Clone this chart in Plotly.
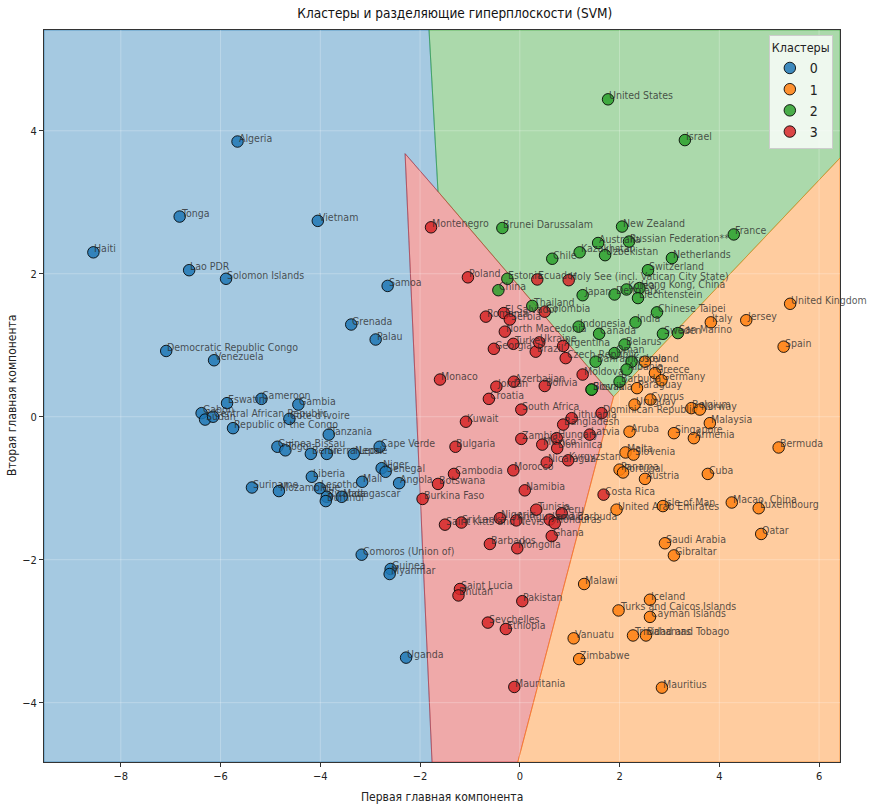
import plotly.graph_objects as go

# ---- cluster 0 ----
names_0 = ["Algeria", "Tonga", "Haiti", "Lao PDR", "Solomon Islands", "Vietnam", "Samoa",
           "Grenada", "Palau", "Democratic Republic Congo", "Venezuela", "Eswatini",
           "Cameroon", "Gambia", "Gabon", "Sudan", "Central African Republic",
           "Cote d'Ivoire", "Republic of the Congo", "Tanzania", "Guinea-Bissau", "Togo",
           "Benin", "Sierra Leone", "Nepal", "Cape Verde", "Niger", "Senegal", "Angola",
           "Mali", "Liberia", "Lesotho", "Rwanda", "Burundi", "Madagascar", "Suriname",
           "Mozambique", "Comoros (Union of)", "Guinea", "Myanmar", "Uganda"]
pc1_0 = [-5.66, -6.82, -8.55, -6.63, -5.89, -4.05, -2.65, -3.38, -2.89, -7.09, -6.13, -5.87,
         -5.18, -4.44, -6.38, -6.31, -6.15, -4.62, -5.75, -3.83, -4.86, -4.70, -4.19, -3.87,
         -3.33, -2.81, -2.77, -2.69, -2.42, -3.16, -4.17, -4.01, -3.87, -3.89, -3.57, -5.37,
         -4.83, -3.17, -2.59, -2.61, -2.28]
pc2_0 = [3.85, 2.80, 2.30, 2.05, 1.93, 2.74, 1.83, 1.29, 1.08, 0.92, 0.79, 0.19,
         0.25, 0.17, 0.05, -0.04, 0.00, -0.03, -0.16, -0.25, -0.42, -0.47, -0.52, -0.52,
         -0.52, -0.42, -0.72, -0.77, -0.93, -0.91, -0.84, -1.00, -1.12, -1.18, -1.12, -0.99,
         -1.04, -1.93, -2.13, -2.20, -3.37]

# ---- cluster 1 ----
names_1 = ["United Kingdom", "Spain", "Jersey", "Italy", "Ireland", "Greece", "Germany",
           "Paraguay", "Cyprus", "Uruguay", "Belgium", "Norway", "Malaysia", "Singapore",
           "Armenia", "Aruba", "Malta", "Slovenia", "Panama", "Portugal", "Austria", "Cuba",
           "Bermuda", "United Arab Emirates", "Isle of Man", "Macao, China", "Luxembourg",
           "Qatar", "Saudi Arabia", "Gibraltar", "Malawi", "Iceland",
           "Turks and Caicos Islands", "Cayman Islands", "Trinidad and Tobago", "Bahamas",
           "Vanuatu", "Zimbabwe", "Mauritius"]
pc1_1 = [5.42, 5.29, 4.54, 3.83, 2.51, 2.71, 2.84, 2.35, 2.62, 2.30, 3.44, 3.61, 3.81, 3.09,
         3.49, 2.20, 2.12, 2.28, 2.00, 2.07, 2.51, 3.77, 5.19, 1.94, 2.87, 4.25, 4.79, 4.84,
         2.91, 3.09, 1.29, 2.61, 1.98, 2.61, 2.27, 2.53, 1.08, 1.19, 2.85]
pc2_1 = [1.58, 0.98, 1.35, 1.32, 0.77, 0.61, 0.51, 0.40, 0.24, 0.17, 0.12, 0.10, -0.09, -0.23,
         -0.30, -0.21, -0.50, -0.53, -0.74, -0.78, -0.87, -0.80, -0.43, -1.30, -1.25, -1.20,
         -1.28, -1.64, -1.77, -1.94, -2.34, -2.56, -2.71, -2.80, -3.06, -3.06, -3.10, -3.39,
         -3.79]

# ---- cluster 2 ----
names_2 = ["United States", "Israel", "New Zealand", "Russian Federation**", "France",
           "Netherlands", "Australia", "Kazakhstan", "Uzbekistan", "Chile",
           "Brunei Darussalam", "Estonia", "China", "Switzerland", "Hong Kong, China",
           "Liechtenstein", "Korea", "Denmark", "Japan", "Thailand", "Indonesia", "Canada",
           "Chinese Taipei", "India", "Sweden", "San Marino", "Belarus", "Slovakia",
           "Oman", "Bahrain", "Kosovo", "Albania", "Barbuda", "Bosnia"]
pc1_2 = [1.77, 3.31, 2.05, 2.19, 4.29, 3.05, 1.57, 1.20, 1.71, 0.65, -0.35, -0.25, -0.43,
         2.57, 2.40, 2.37, 2.14, 1.90, 1.26, 0.25, 1.18, 1.59, 2.75, 2.32, 2.87, 3.17, 2.10,
         1.44, 1.90, 1.52, 2.24, 2.14, 2.00, 1.44]
pc2_2 = [4.44, 3.87, 2.66, 2.45, 2.55, 2.22, 2.43, 2.30, 2.26, 2.21, 2.64, 1.93, 1.77,
         2.05, 1.80, 1.66, 1.78, 1.71, 1.70, 1.55, 1.26, 1.16, 1.46, 1.32, 1.16, 1.17, 1.01,
         0.38, 0.89, 0.77, 0.77, 0.66, 0.49, 0.38]

# ---- cluster 3 ----
names_3 = ["Montenegro", "Poland", "Ecuador", "Holy See (incl. Vatican City State)",
           "Colombia", "Romania", "El Salvador", "Serbia", "North Macedonia", "Georgia",
           "Turkey", "Brazil", "Ukraine", "Argentina", "Czech Republic", "Monaco", "Jordan",
           "Azerbaijan", "Bolivia", "Moldova", "Croatia", "South Africa", "Kuwait",
           "Bulgaria", "Cambodia", "Botswana", "Burkina Faso", "Zambia", "Hungary", "Mexico",
           "Dominica", "Nicaragua", "Kyrgyzstan", "Lithuania", "Bangladesh", "Latvia",
           "Dominican Republic", "Morocco", "Namibia", "Costa Rica", "Sri Lanka",
           "Saint Kitts and Nevis", "Nigeria", "Antigua and Barbuda", "Tunisia", "Jamaica",
           "Honduras", "Peru", "Ghana", "Mongolia", "Barbados", "Saint Lucia", "Bhutan",
           "Pakistan", "Seychelles", "Ethiopia", "Mauritania"]
pc1_3 = [-1.78, -1.04, 0.35, 0.98, 0.50, -0.68, -0.32, -0.20, -0.30, -0.52, -0.13, 0.32,
         0.39, 0.87, 0.92, -1.60, -0.47, -0.12, 0.50, 1.26, -0.62, 0.03, -1.08, -1.29, -1.32,
         -1.64, -1.95, 0.03, 0.74, 0.45, 0.75, 0.54, 0.97, 1.04, 0.87, 1.40, 1.64, -0.13,
         0.10, 1.68, -1.17, -1.50, -0.40, -0.07, 0.33, 0.60, 0.70, 0.84, 0.64, -0.05, -0.60,
         -1.20, -1.23, 0.05, -0.64, -0.28, -0.11]
pc2_3 = [2.65, 1.95, 1.92, 1.91, 1.47, 1.40, 1.45, 1.36, 1.19, 0.95, 1.02, 0.91, 1.04,
         0.99, 0.82, 0.52, 0.42, 0.49, 0.43, 0.59, 0.25, 0.10, -0.07, -0.42, -0.80, -0.94,
         -1.15, -0.31, -0.30, -0.39, -0.44, -0.64, -0.61, -0.02, -0.11, -0.25, 0.05, -0.75,
         -1.03, -1.09, -1.48, -1.51, -1.42, -1.45, -1.30, -1.44, -1.49, -1.35, -1.67, -1.84,
         -1.78, -2.41, -2.50, -2.58, -2.88, -2.97, -3.78]

clusters = ["0", "1", "2", "3"]
cluster_names = [names_0, names_1, names_2, names_3]
cluster_pc1 = [pc1_0, pc1_1, pc1_2, pc1_3]
cluster_pc2 = [pc2_0, pc2_1, pc2_2, pc2_3]

# axis extent and ticks
x_range = [-9.54, 6.42]
y_range = [-4.83, 5.41]
x_ticks = [-8, -6, -4, -2, 0, 2, 4, 6]
y_ticks = [-4, -2, 0, 2, 4]

# decision-boundary vertices (SVM hyperplane intersections)
top_bg = (-1.82, 5.41)      # blue/green on top edge
bgr = (-1.64, 3.15)         # blue/green/red
red_tip = (-2.30, 3.68)
bot_br = (-1.76, -4.83)     # blue/red on bottom edge
gro = (1.88, 0.28)          # green/red/orange
bot_ro = (-0.04, -4.83)     # red/orange on bottom edge
right_go = (6.42, 3.62)     # green/orange on right edge

x0, x1 = x_range
y0, y1 = y_range
regions = {
    "0": [(x0, y1), top_bg, bgr, red_tip, bot_br, (x0, y0)],
    "2": [top_bg, (x1, y1), right_go, gro, bgr],
    "3": [red_tip, bgr, gro, bot_ro, bot_br],
    "1": [gro, right_go, (x1, y0), bot_ro],
}

rgb = {"0": (31, 119, 180), "1": (255, 127, 14), "2": (44, 160, 44), "3": (214, 39, 40)}

FONT = "DejaVu Sans Condensed, Liberation Sans Narrow, DejaVu Sans, sans-serif"

fig = go.Figure()

for c in ["0", "2", "3", "1"]:
    r, g, b = rgb[c]
    pts = regions[c]
    fig.add_trace(go.Scatter(
        x=[p[0] for p in pts] + [pts[0][0]],
        y=[p[1] for p in pts] + [pts[0][1]],
        mode="lines", fill="toself",
        fillcolor=f"rgba({r},{g},{b},0.4)",
        line=dict(color=f"rgba({r},{g},{b},0.55)", width=1),
        hoverinfo="skip", showlegend=False))

# grid drawn over the region fills
gx, gy = [], []
for t in x_ticks:
    gx += [t, t, None]
    gy += [y0, y1, None]
for t in y_ticks:
    gx += [x0, x1, None]
    gy += [t, t, None]
fig.add_trace(go.Scatter(x=gx, y=gy, mode="lines",
                         line=dict(color="rgba(255,255,255,0.25)", width=1),
                         hoverinfo="skip", showlegend=False))

for c, nm, px, py in zip(clusters, cluster_names, cluster_pc1, cluster_pc2):
    r, g, b = rgb[c]
    fig.add_trace(go.Scatter(
        x=px, y=py, mode="markers", name=c, text=nm,
        marker=dict(size=11.5, color=f"rgba({r},{g},{b},0.85)",
                    line=dict(color="rgba(0,0,0,0.85)", width=1))))

annotations = []
for nm, px, py in zip(cluster_names, cluster_pc1, cluster_pc2):
    for n, a, b in zip(nm, px, py):
        annotations.append(dict(
            x=a, y=b, text=n, showarrow=False, xanchor="left", yanchor="bottom",
            yshift=-4, xshift=-1,
            font=dict(family=FONT, size=10.5, color="rgba(40,40,40,0.78)")))

# axis titles
annotations.append(dict(text="Первая главная компонента", x=0.5, xref="paper",
                        y=-(797 - 762) / 732, yref="paper", showarrow=False,
                        xanchor="center", yanchor="middle",
                        font=dict(family=FONT, size=12, color="#222")))
annotations.append(dict(text="Вторая главная компонента", x=-(44 - 12) / 796,
                        xref="paper", y=0.5, yref="paper", showarrow=False,
                        textangle=-90, xanchor="center", yanchor="middle",
                        font=dict(family=FONT, size=12, color="#222")))

fig.update_layout(
    width=869, height=807,
    margin=dict(l=44, r=29, t=30, b=45, autoexpand=False),
    paper_bgcolor="white", plot_bgcolor="white",
    font=dict(family=FONT, size=11, color="#222"),
    title=dict(text="Кластеры и разделяющие гиперплоскости (SVM)",
               x=0.516, xref="paper", y=1 - 13 / 807, yref="container",
               xanchor="center", yanchor="middle",
               font=dict(family=FONT, size=13.5, color="#111")),
    annotations=annotations,
    legend=dict(title=dict(text="Кластеры", font=dict(size=12.5)),
                x=0.991, y=0.993, xanchor="right", yanchor="top",
                bgcolor="rgba(255,255,255,0.8)", bordercolor="#cccccc", borderwidth=1,
                font=dict(size=14)),
    showlegend=True,
)
fig.update_xaxes(range=x_range, tickvals=x_ticks, showgrid=False, zeroline=False,
                 showline=True, mirror=True, linecolor="#333", linewidth=1,
                 ticks="outside", ticklen=4, tickcolor="#333", automargin=False,
                 tickfont=dict(size=11))
fig.update_yaxes(range=y_range, tickvals=y_ticks, showgrid=False, zeroline=False,
                 showline=True, mirror=True, linecolor="#333", linewidth=1,
                 ticks="outside", ticklen=4, tickcolor="#333", automargin=False,
                 tickfont=dict(size=11))

fig.write_html("out.html")
